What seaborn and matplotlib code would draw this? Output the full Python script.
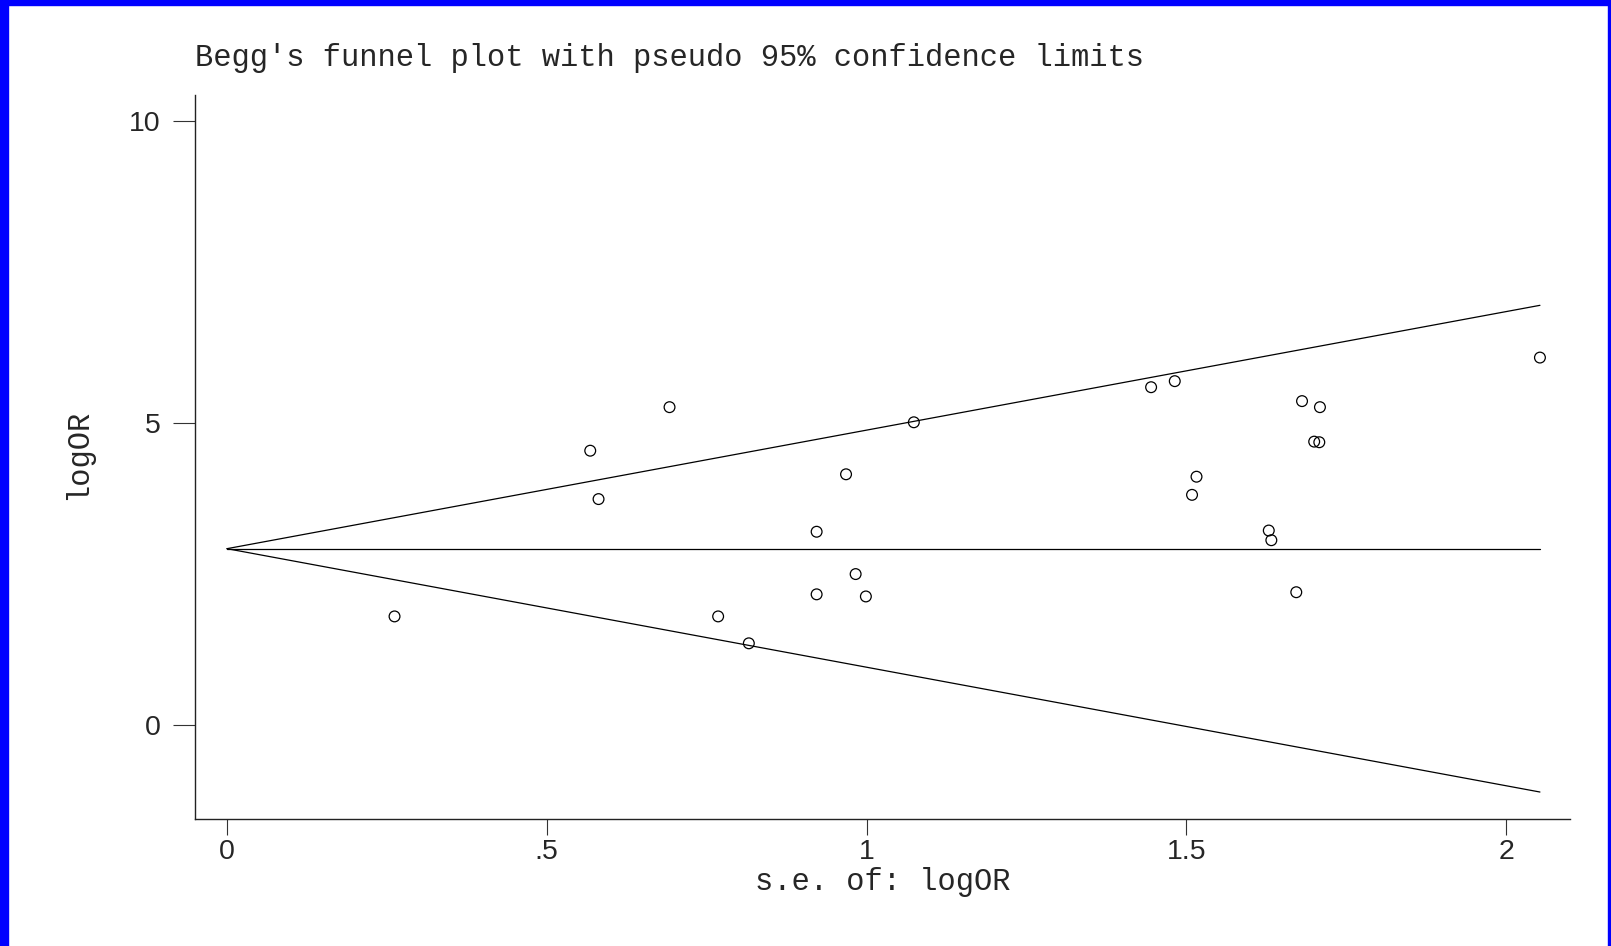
import numpy as np
import pandas as pd
import matplotlib
matplotlib.use("Agg")
import matplotlib.pyplot as plt
import seaborn as sns
from matplotlib.patches import Rectangle

# study values
se = [0.262, 0.568, 0.581, 0.692, 0.768, 0.816, 0.922, 0.922, 0.968, 0.983, 0.999, 1.074,
      1.445, 1.482, 1.509, 1.516, 1.629, 1.633, 1.672, 1.681, 1.700, 1.708, 1.709, 2.053]
logor = [1.80, 4.54, 3.74, 5.26, 1.80, 1.355, 3.20, 2.165, 4.15, 2.50, 2.13, 5.01,
         5.59, 5.69, 3.81, 4.11, 3.22, 3.06, 2.20, 5.36, 4.69, 4.68, 5.26, 6.08]
pooled = 2.92
x_ticks = [0, 0.5, 1, 1.5, 2]
x_ticklabels = ["0", ".5", "1", "1.5", "2"]
y_ticks = [0, 5, 10]

df = pd.DataFrame({"se": se, "logOR": logor})

# pseudo 95% limits
se_grid = np.array([0, max(se)])
limits = pd.DataFrame({
    "se": np.concatenate([se_grid, se_grid, se_grid]),
    "val": np.concatenate([pooled + 1.96 * se_grid, pooled - 1.96 * se_grid, [pooled, pooled]]),
    "line": ["upper"] * 2 + ["lower"] * 2 + ["mid"] * 2,
})

sns.set_style("white")
mono = ["Liberation Mono", "DejaVu Sans Mono"]
sans = ["Liberation Sans", "DejaVu Sans"]

fig = plt.figure(figsize=(16.11, 9.46), dpi=100)
ax = fig.add_axes([195 / 1611, 1 - 819 / 946, (1570 - 195) / 1611, (819 - 94.5) / 946])

sns.lineplot(data=limits, x="se", y="val", units="line", estimator=None,
             color="black", lw=0.9, ax=ax, legend=False)
sns.scatterplot(data=df, x="se", y="logOR", ax=ax, s=60, marker="o",
                facecolors="none", edgecolor="black", linewidth=0.9, zorder=3)

ax.set_xlim(-0.05, 2.10)
ax.set_ylim(-1.55, 10.43)
ax.set_xticks(x_ticks)
ax.set_xticklabels(x_ticklabels, fontfamily=sans, fontsize=20.5)
ax.set_yticks(y_ticks)
ax.set_yticklabels([str(v) for v in y_ticks], fontfamily=sans, fontsize=20.5)
ax.tick_params(axis="x", bottom=True, direction="out", length=11.5, width=0.8, pad=3,
               color="#333333")
ax.tick_params(axis="y", left=True, direction="out", length=16, width=0.8, pad=9,
               color="#333333")
ax.set_xlabel("")
ax.set_ylabel("")
for side in ["top", "right"]:
    ax.spines[side].set_visible(False)
for side in ["left", "bottom"]:
    ax.spines[side].set_color("#222222")
    ax.spines[side].set_linewidth(1.0)

fig.text(195 / 1611, 1 - 66 / 946, "Begg's funnel plot with pseudo 95% confidence limits",
         fontfamily=mono, fontsize=22, ha="left", va="baseline")
fig.text(883 / 1611, 1 - 882 / 946, "s.e. of: logOR", fontfamily=mono, fontsize=22,
         ha="center", va="center")
fig.text(78 / 1611, 1 - 454 / 946, "logOR", fontfamily=mono, fontsize=22,
         ha="center", va="center", rotation=90)

# blue frame around the image
fig.patches.append(Rectangle((0, 0), 8 / 1611, 1, transform=fig.transFigure,
                             color="#0000ff", zorder=10))
fig.patches.append(Rectangle((0, 1 - 5 / 946), 1, 5 / 946, transform=fig.transFigure,
                             color="#0000ff", zorder=10))
fig.patches.append(Rectangle((1 - 3 / 1611, 0), 3 / 1611, 1, transform=fig.transFigure,
                             color="#0000ff", zorder=10))

fig.savefig("out.png", dpi=100)
